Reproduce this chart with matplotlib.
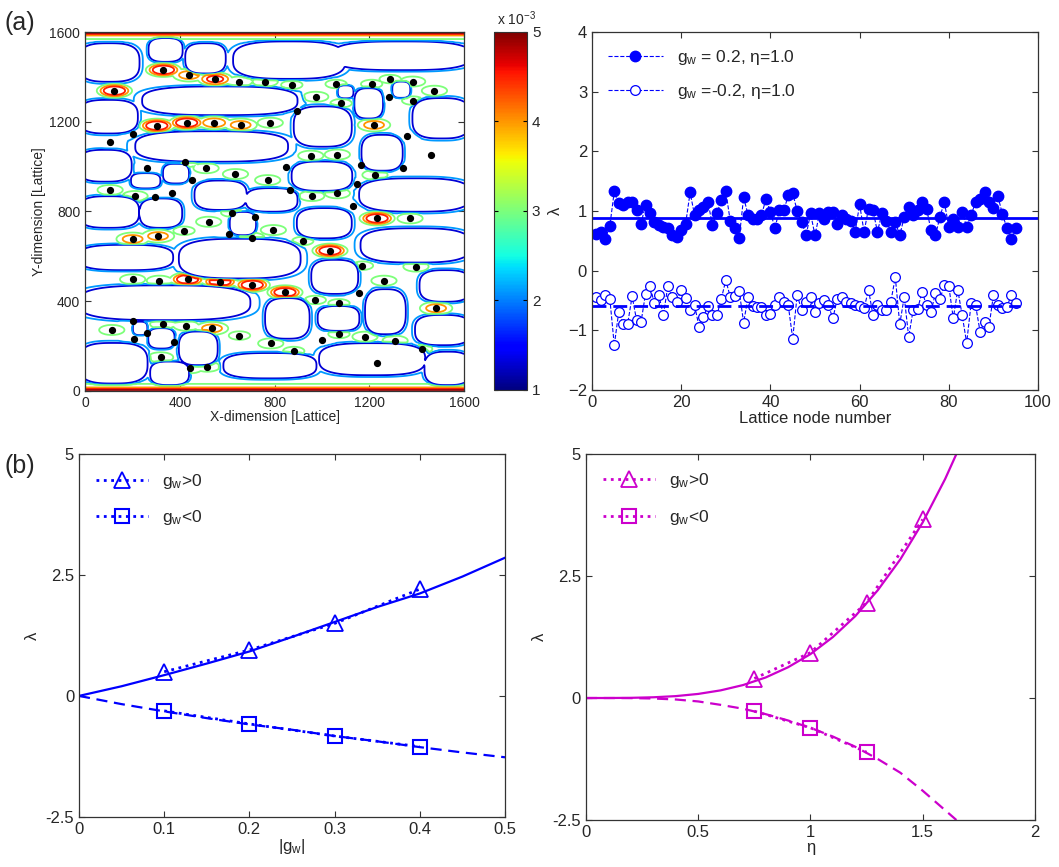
import numpy as np
import matplotlib
matplotlib.use("Agg")
import matplotlib.pyplot as plt
from matplotlib.colors import Normalize
from matplotlib.cm import ScalarMappable

plt.rcParams['font.family'] = ['Liberation Sans', 'DejaVu Sans']
plt.rcParams['mathtext.fontset'] = 'custom'
plt.rcParams['mathtext.rm'] = 'Liberation Sans'
plt.rcParams['mathtext.it'] = 'Liberation Sans'

# ---- (a) left: node positions on the lattice [lattice units]
node_x = [331, 439, 549, 652, 761, 873, 1060, 1210, 1288, 1383, 1475, 124, 974, 1285,
          1081, 1383, 894, 303, 429, 545, 657, 782, 1220, 204, 106, 1358, 953, 1065,
          1461, 422, 260, 511, 849, 1164, 1344, 635, 1224, 450, 771, 1150, 106, 211,
          367, 297, 865, 957, 1065, 1133, 619, 718, 1233, 1372, 522, 418, 608, 795,
          201, 308, 705, 919, 1034, 1171, 1397, 201, 314, 433, 570, 706, 844, 1262,
          1157, 972, 1072, 1482, 204, 113, 328, 426, 263, 536, 652, 208, 377, 1072,
          1182, 1309, 999, 784, 881, 1421, 319, 443, 516, 1231]
node_y = [1432, 1409, 1391, 1380, 1380, 1365, 1369, 1369, 1391, 1380, 1339, 1339, 1312,
          1312, 1283, 1295, 1250, 1183, 1196, 1196, 1186, 1196, 1186, 1146, 1109, 1137,
          1049, 1054, 1054, 1019, 996, 993, 1000, 1007, 993, 967, 963, 940, 940, 923,
          896, 869, 884, 863, 896, 869, 881, 824, 795, 777, 769, 769, 754, 714, 699,
          717, 677, 690, 683, 668, 625, 558, 554, 497, 491, 497, 487, 472, 439, 491,
          435, 405, 390, 368, 311, 271, 298, 290, 259, 278, 246, 231, 219, 253, 241,
          223, 226, 211, 177, 186, 149, 100, 107, 122]
# peak concentration at each node [x 1e-3]
node_peak = [4.8, 4.2, 4.6, 3.4, 3.4, 3.2, 3.2, 3.2, 3.2, 3.4, 3.4, 4.8, 3.4, 3.0,
             3.2, 3.2, 2.9, 4.8, 4.8, 4.3, 4.2, 3.4, 4.2, 3.0, 3.0, 3.0, 3.4, 3.4,
             3.0, 3.4, 3.0, 3.4, 3.0, 3.0, 3.0, 3.4, 3.4, 3.0, 3.4, 3.0, 3.4, 3.4,
             3.0, 3.0, 3.0, 3.4, 3.4, 3.0, 3.2, 3.0, 4.8, 3.4, 3.4, 3.2, 3.0, 3.4,
             4.2, 4.2, 3.4, 3.2, 4.8, 3.2, 3.4, 3.4, 3.4, 4.8, 4.8, 4.8, 4.8, 3.4,
             3.0, 3.2, 3.2, 4.2, 3.0, 3.4, 3.4, 3.4, 3.0, 4.2, 3.2, 3.0, 3.0, 3.2,
             3.4, 3.4, 3.0, 3.4, 3.2, 3.2, 3.4, 3.4, 3.4, 3.0]
# pore cells (white regions): x-range and y-range [lattice units]
cell_x0 = [-20, 276, 431, 633, 1053, -20, 249, 1075, 1145, 1305, 1390, 889, 220, 1175,
           -20, 880, 1165, 337, 470, 202, 687, -20, 239, 619, 902, -20, 404, 963, 1171,
           1420, -20, 768, 990, 1190, 1401, 210, 275, 404, -20, 592, 996, 283, 1441]
cell_x1 = [222, 404, 586, 1091, 1620, 215, 889, 1125, 1250, 1365, 1620, 1118, 849, 1333,
           189, 1120, 1620, 431, 674, 310, 889, 220, 402, 714, 1118, 364, 902, 1145, 1620,
           1620, 690, 940, 1150, 1346, 1620, 255, 370, 552, 256, 969, 1428, 431, 1620]
cell_y0 = [1387, 1476, 1424, 1400, 1439, 1156, 1238, 1313, 1223, 1315, 1134, 1097, 1030,
           990, 941, 900, 807, 933, 815, 911, 807, 735, 735, 702, 688, 546, 509, 440,
           580, 405, 323, 240, 275, 260, 211, 256, 196, 122, 40, 63, 77, 33, 33]
cell_y1 = [1543, 1566, 1543, 1551, 1551, 1290, 1350, 1355, 1342, 1372, 1298, 1261, 1150,
           1134, 1067, 1015, 940, 1005, 930, 963, 896, 860, 850, 790, 807, 643, 670, 576,
           717, 530, 462, 405, 370, 445, 330, 300, 271, 256, 205, 160, 204, 122, 166]
channel_level = 2.6     # concentration in the channels between cells
wall_level = 5.2        # concentration at the top and bottom walls
contour_levels = [1.3, 2.1, 3.0, 4.0, 4.5, 4.9]
domain = 1600

# ---- (a) right: lambda per lattice node
lam_pos = [0.61, 0.65, 0.53, 0.75, 1.33, 1.13, 1.10, 1.15, 1.15, 1.01,
           0.79, 1.10, 0.96, 0.82, 0.76, 0.73, 0.71, 0.59, 0.57, 0.68,
           0.79, 1.31, 0.93, 1.01, 1.07, 1.15, 0.77, 0.96, 1.18, 1.33,
           0.83, 0.71, 0.54, 1.23, 0.93, 0.87, 0.87, 0.93, 1.20, 0.99,
           0.71, 1.01, 1.01, 1.26, 1.30, 1.00, 0.82, 0.59, 0.96, 0.59,
           0.96, 0.87, 0.99, 0.99, 0.79, 0.93, 0.87, 0.84, 0.65, 1.11,
           0.65, 1.04, 1.01, 0.65, 0.96, 0.84, 0.65, 0.82, 0.59, 0.90,
           1.07, 0.93, 1.01, 1.15, 1.04, 0.68, 0.59, 0.90, 1.15, 0.73,
           0.87, 0.73, 0.99, 0.73, 0.93, 1.15, 1.20, 1.31, 1.15, 1.05,
           1.25, 0.95, 0.72, 0.53, 0.72]
lam_neg = [-0.44, -0.49, -0.41, -0.47, -1.25, -0.69, -0.90, -0.89, -0.43, -0.83,
           -0.86, -0.39, -0.26, -0.55, -0.41, -0.75, -0.26, -0.44, -0.52, -0.32,
           -0.46, -0.66, -0.58, -0.94, -0.77, -0.59, -0.75, -0.75, -0.47, -0.16,
           -0.44, -0.43, -0.34, -0.87, -0.44, -0.59, -0.61, -0.61, -0.75, -0.72,
           -0.58, -0.44, -0.52, -0.58, -1.14, -0.41, -0.66, -0.52, -0.44, -0.69,
           -0.55, -0.49, -0.58, -0.80, -0.47, -0.44, -0.52, -0.55, -0.58, -0.60,
           -0.63, -0.32, -0.75, -0.58, -0.66, -0.66, -0.52, -0.11, -0.90, -0.44,
           -1.11, -0.66, -0.65, -0.35, -0.58, -0.69, -0.38, -0.48, -0.24, -0.26,
           -0.80, -0.32, -0.75, -1.21, -0.55, -0.58, -1.02, -0.86, -0.94, -0.41,
           -0.58, -0.63, -0.61, -0.41, -0.55]
lam_pos_mean = 0.89
lam_neg_mean = -0.59

# ---- (b) left: lambda vs |g_w|
gw_curve = [0, 0.05, 0.1, 0.15, 0.2, 0.25, 0.3, 0.35, 0.4, 0.45, 0.5]
lam_gw_pos_curve = [0, 0.2, 0.43, 0.67, 0.92, 1.22, 1.53, 1.84, 2.12, 2.47, 2.86]
lam_gw_neg_curve = [0, -0.17, -0.32, -0.46, -0.59, -0.70, -0.83, -0.94, -1.06, -1.17, -1.27]
gw_pts = [0.1, 0.2, 0.3, 0.4]
lam_gw_pos_pts = [0.5, 0.95, 1.5, 2.21]
lam_gw_neg_pts = [-0.31, -0.58, -0.83, -1.05]

# ---- (b) right: lambda vs eta
eta_curve = [0, 0.1, 0.2, 0.3, 0.4, 0.5, 0.6, 0.7, 0.8, 0.9, 1.0, 1.1, 1.2, 1.3,
             1.4, 1.5, 1.6, 1.65]
lam_eta_pos_curve = [0, 0.0003, 0.004, 0.015, 0.039, 0.084, 0.157, 0.266, 0.42, 0.63,
                     0.9, 1.25, 1.68, 2.21, 2.84, 3.6, 4.49, 5.0]
lam_eta_neg_curve = [0, 0, -0.002, -0.01, -0.03, -0.07, -0.14, -0.22, -0.33, -0.46,
                     -0.61, -0.79, -1.0, -1.25, -1.53, -1.9, -2.3, -2.5]
eta_pos_pts = [0.75, 1.0, 1.25, 1.5]
lam_eta_pos_pts = [0.4, 0.93, 1.95, 3.66]
eta_neg_pts = [0.75, 1.0, 1.25]
lam_eta_neg_pts = [-0.27, -0.61, -1.11]

BLUE = '#0000ff'
MAG = '#cc00cc'
TXT = '#262626'


def style_axes(ax):
    ax.tick_params(direction='in', top=True, right=True, length=4, labelsize=11,
                   labelcolor=TXT, color='#333333')
    for s in ax.spines.values():
        s.set_color('#333333')
        s.set_linewidth(0.9)


def build_field():
    g = np.linspace(0, domain, 401)
    X, Y = np.meshgrid(g, g)
    # cells: rounded-rectangle holes in the channel network
    grow = 8.0
    G = np.ones(X.shape)
    for x0, x1, y0, y1 in zip(cell_x0, cell_x1, cell_y0, cell_y1):
        cx, cy = (x0 + x1) / 2, (y0 + y1) / 2
        hx, hy = (x1 - x0) / 2 + grow, (y1 - y0) / 2 + grow
        r = (np.abs((X - cx) / hx) ** 3 + np.abs((Y - cy) / hy) ** 3) ** (1 / 3)
        rm = r ** 14
        G = np.minimum(G, rm / (1 + rm))
    F = channel_level * G
    fac = np.clip((G - 0.5) / 0.3, 0, 1)
    # peaks at the nodes
    sx, sy = 90.0, 38.0
    B = np.zeros(X.shape)
    for x0, y0, a in zip(node_x, node_y, node_peak):
        q = ((X - x0) / sx) ** 2 + ((Y - y0) / sy) ** 2
        B = np.maximum(B, a * np.exp(-q ** 2))
    # walls
    L = 55.0
    W = wall_level * (np.exp(-Y / L) + np.exp(-(domain - Y) / L))
    F = np.maximum(F, np.maximum(B, W) * fac)
    return X, Y, F


fig = plt.figure(figsize=(10.59, 8.67), dpi=100)

# ---------------- (a) contour map
ax1 = fig.add_axes([0.0803, 0.5494, 0.3579, 0.4134])
X, Y, F = build_field()
norm = Normalize(1, 5)
ax1.contour(X, Y, F, levels=contour_levels, cmap='jet', norm=norm, linewidths=1.3)
ax1.plot(node_x, node_y, 'o', color='black', markersize=4.2, linestyle='none')
ax1.set_xlim(0, domain)
ax1.set_ylim(0, domain)
ax1.set_xticks([0, 400, 800, 1200, 1600])
ax1.set_yticks([0, 400, 800, 1200, 1600])
style_axes(ax1)
ax1.tick_params(labelsize=10)
ax1.set_xlabel('X-dimension [Lattice]', fontsize=10, color=TXT, labelpad=0)
ax1.set_ylabel('Y-dimension [Lattice]', fontsize=10, color=TXT, labelpad=2)

cax = fig.add_axes([0.4665, 0.5502, 0.0312, 0.4129])
cb = fig.colorbar(ScalarMappable(norm=norm, cmap='jet'), cax=cax, ticks=[1, 2, 3, 4, 5])
cb.ax.tick_params(direction='in', length=3, labelsize=11, labelcolor=TXT, left=True)
cb.outline.set_edgecolor('#333333')
cax.text(0.1, 1.01, 'x 10$^{-3}$', transform=cax.transAxes, fontsize=10, color=TXT,
         ha='left', va='bottom')

# ---------------- (a) lambda per node
ax2 = fig.add_axes([0.5590, 0.5502, 0.4212, 0.4129])
nodes = np.arange(1, len(lam_pos) + 1)
ax2.plot(nodes, lam_pos, '--', color=BLUE, lw=0.8, marker='o', markersize=7.5,
         markerfacecolor=BLUE, markeredgecolor=BLUE, label='g$_w$ = 0.2, η=1.0')
ax2.plot(nodes, lam_neg, '--', color=BLUE, lw=0.8, marker='o', markersize=7,
         markerfacecolor='white', markeredgecolor=BLUE, markeredgewidth=0.9,
         label='g$_w$ =-0.2, η=1.0')
ax2.plot([0, 100], [lam_pos_mean, lam_pos_mean], '-', color=BLUE, lw=2)
ax2.plot([0, nodes[-1] + 1], [lam_neg_mean, lam_neg_mean], '--', color=BLUE, lw=2,
         dashes=(5, 2.5))
ax2.set_xlim(0, 100)
ax2.set_ylim(-2, 4)
ax2.set_xticks([0, 20, 40, 60, 80, 100])
ax2.set_yticks([-2, -1, 0, 1, 2, 3, 4])
style_axes(ax2)
ax2.tick_params(labelsize=12)
ax2.set_xlabel('Lattice node number', fontsize=12, color=TXT, labelpad=1)
ax2.set_ylabel('λ', fontsize=12, color=TXT)
ax2.legend(loc='upper left', frameon=False, fontsize=12.5, handlelength=3.2,
           labelspacing=0.9, borderaxespad=0.5, labelcolor=TXT)

# ---------------- (b) lambda vs |g_w|
ax3 = fig.add_axes([0.0746, 0.0580, 0.4023, 0.4180])
ax3.plot(gw_curve, lam_gw_pos_curve, '-', color=BLUE, lw=1.6)
ax3.plot(gw_curve, lam_gw_neg_curve, '--', color=BLUE, lw=1.6, dashes=(5, 3))
ax3.plot(gw_pts, lam_gw_pos_pts, ':', color=BLUE, lw=2, marker='^', markersize=11,
         markerfacecolor='none', markeredgewidth=1.3, label='g$_w$>0')
ax3.plot(gw_pts, lam_gw_neg_pts, ':', color=BLUE, lw=2, marker='s', markersize=10,
         markerfacecolor='none', markeredgewidth=1.5, label='g$_w$<0')
ax3.set_xlim(0, 0.5)
ax3.set_ylim(-2.5, 5)
ax3.set_xticks([0, 0.1, 0.2, 0.3, 0.4, 0.5])
ax3.set_xticklabels(['0', '0.1', '0.2', '0.3', '0.4', '0.5'])
ax3.set_yticks([-2.5, 0, 2.5, 5])
ax3.set_yticklabels(['-2.5', '0', '2.5', '5'])
style_axes(ax3)
ax3.tick_params(labelsize=12)
ax3.set_xlabel('|g$_w$|', fontsize=12, color=TXT, labelpad=0)
ax3.set_ylabel('λ', fontsize=12, color=TXT)
ax3.legend(loc='upper left', frameon=False, fontsize=12.5, handlelength=3.0,
           labelspacing=1.0, borderaxespad=0.6, labelcolor=TXT)

# ---------------- (b) lambda vs eta
ax4 = fig.add_axes([0.5533, 0.0542, 0.4240, 0.4221])
ax4.plot(eta_curve, lam_eta_pos_curve, '-', color=MAG, lw=1.6)
ax4.plot(eta_curve, lam_eta_neg_curve, '--', color=MAG, lw=1.6, dashes=(5, 3))
ax4.plot(eta_pos_pts, lam_eta_pos_pts, ':', color=MAG, lw=2, marker='^', markersize=11,
         markerfacecolor='none', markeredgewidth=1.3, label='g$_w$>0')
ax4.plot(eta_neg_pts, lam_eta_neg_pts, ':', color=MAG, lw=2, marker='s', markersize=10,
         markerfacecolor='none', markeredgewidth=1.5, label='g$_w$<0')
ax4.set_xlim(0, 2)
ax4.set_ylim(-2.5, 5)
ax4.set_xticks([0, 0.5, 1, 1.5, 2])
ax4.set_xticklabels(['0', '0.5', '1', '1.5', '2'])
ax4.set_yticks([-2.5, 0, 2.5, 5])
ax4.set_yticklabels(['-2.5', '0', '2.5', '5'])
style_axes(ax4)
ax4.tick_params(labelsize=12)
ax4.set_xlabel('η', fontsize=12, color=TXT, labelpad=0)
ax4.set_ylabel('λ', fontsize=12, color=TXT)
ax4.legend(loc='upper left', frameon=False, fontsize=12.5, handlelength=3.0,
           labelspacing=1.0, borderaxespad=0.6, labelcolor=TXT)

fig.text(0.004, 0.973, '(a)', fontsize=18, color=TXT, va='center')
fig.text(0.004, 0.462, '(b)', fontsize=18, color=TXT, va='center')

fig.savefig('out.png', dpi=100)
